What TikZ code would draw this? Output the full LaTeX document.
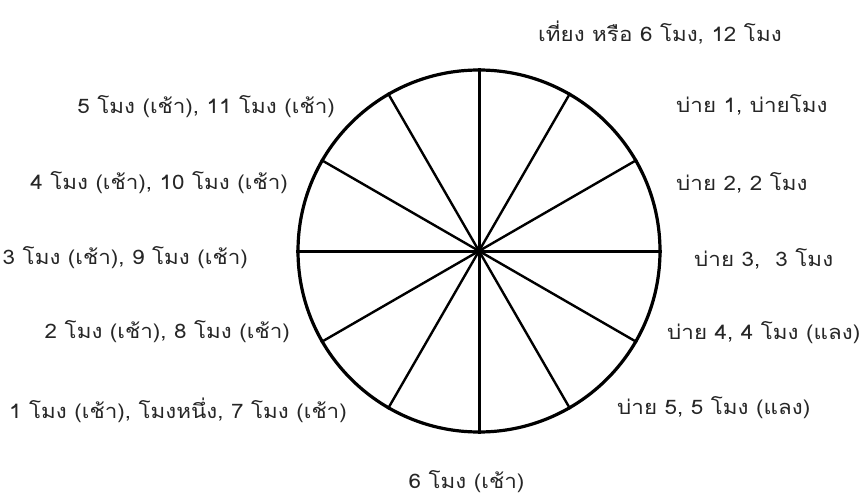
\documentclass[tikz,border=0pt]{standalone}
\usepackage{fontspec}
\newfontfamily\thaifont[Script=Thai,FakeStretch=1.12]{Loma}
\begin{document}
\begin{tikzpicture}[x=1pt,y=1pt,
  lbl/.style={font=\thaifont\fontsize{20}{22}\selectfont, text=black!85, inner sep=0pt},
  spoke/.style={line width=2.4pt},
  mainspoke/.style={line width=3pt}]
\useasboundingbox (0,0) rectangle (866,496);
\node[circle, draw, line width=3.2pt, minimum size=362pt, inner sep=0pt] (c) at (479,245) {};
\draw[mainspoke] (c.0) -- (c.180);
\draw[mainspoke] (c.90) -- (c.270);
\draw[spoke] (c.30) -- (c.210);
\draw[spoke] (c.60) -- (c.240);
\draw[spoke] (c.120) -- (c.300);
\draw[spoke] (c.150) -- (c.330);
\node[lbl, anchor=west] (t12) at (538,463) {เที่ยง หรือ 6 โมง, 12 โมง};
\node[lbl, anchor=west] (t1) at (676,391) {บ่าย 1, บ่ายโมง};
\node[lbl, anchor=west] (t2) at (676,313) {บ่าย 2, 2 โมง};
\node[lbl, anchor=west] (t3) at (694,237) {บ่าย 3,\ \ 3 โมง};
\node[lbl, anchor=west] (t4) at (667,163) {บ่าย 4, 4 โมง (แลง)};
\node[lbl, anchor=west] (t5) at (617,88) {บ่าย 5, 5 โมง (แลง)};
\node[lbl] (t6) at (466.5,14) {6 โมง (เช้า)};
\node[lbl, anchor=east] (t7) at (347,86) {1 โมง (เช้า), โมงหนึ่ง, 7 โมง (เช้า)};
\node[lbl, anchor=east] (t8) at (290,164) {2 โมง (เช้า), 8 โมง (เช้า)};
\node[lbl, anchor=east] (t9) at (248,238) {3 โมง (เช้า), 9 โมง (เช้า)};
\node[lbl, anchor=east] (t10) at (288,313) {4 โมง (เช้า), 10 โมง (เช้า)};
\node[lbl, anchor=east] (t11) at (335,389) {5 โมง (เช้า), 11 โมง (เช้า)};
\end{tikzpicture}
\end{document}
